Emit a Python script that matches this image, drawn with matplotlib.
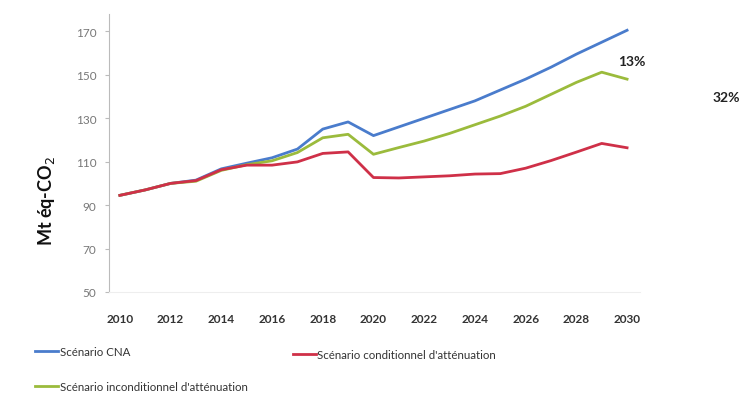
import matplotlib
matplotlib.use("Agg")
import matplotlib.pyplot as plt
from matplotlib.lines import Line2D

plt.rcParams['font.family'] = ['Lato', 'DejaVu Sans']

years = list(range(2010, 2031))
cna = [94.5, 97, 100, 101.5, 106.7, 109.3, 111.8, 115.8, 125.0, 128.3, 122.0,
       126.0, 130.0, 134.0, 138.0, 143.0, 148.0, 153.5, 159.5, 165.0, 170.5]
conditionnel = [94.5, 97, 100, 101.3, 106.3, 108.4, 108.4, 109.9, 113.8, 114.5, 102.7,
                102.5, 103.0, 103.5, 104.3, 104.5, 107.0, 110.5, 114.4, 118.4, 116.4]
inconditionnel = [94.5, 97, 100, 101.0, 106.0, 108.6, 110.4, 114.2, 121.0, 122.6, 113.4,
                  116.5, 119.5, 123.0, 127.0, 131.0, 135.5, 141.0, 146.5, 151.2, 148.0]
series_names = ["Scénario CNA", "Scénario conditionnel d'atténuation",
                "Scénario inconditionnel d'atténuation"]
yticks = [50, 70, 90, 110, 130, 150, 170]
xticks = list(range(2010, 2031, 2))
annotations = [("13%", 2030.2, 156.5), ("32%", 2033.9, 140.0)]

c_blue = '#4a7ccc'
c_red = '#cf3048'
c_green = '#9bbb3c'

fig = plt.figure(figsize=(7.5, 4.14), dpi=100)
ax = fig.add_axes([0.1453, 0.2923, 0.7077, 0.6715])

ax.plot(years, cna, color=c_blue, lw=2.0)
ax.plot(years, inconditionnel, color=c_green, lw=2.0)
ax.plot(years, conditionnel, color=c_red, lw=2.0)

ax.set_xlim(2009.57, 2030.5)
ax.set_ylim(50, 178)
ax.set_yticks(yticks)
ax.set_xticks(xticks)
ax.set_yticklabels([str(v) for v in yticks], fontsize=8.5, color='#777777')
ax.set_xticklabels([str(v) for v in xticks], fontsize=8.5, fontweight='bold', color='#333333')
ax.tick_params(axis='y', length=3, color='#bbbbbb', pad=6)
ax.tick_params(axis='x', length=0, pad=15)
for s in ['top', 'right']:
    ax.spines[s].set_visible(False)
ax.spines['left'].set_color('#bbbbbb')
ax.spines['bottom'].set_color('#eeeeee')
ax.set_ylabel('Mt éq-CO$_2$', fontsize=13, fontweight='bold', color='#111111')
ax.yaxis.set_label_coords(-0.097, 0.33)

for txt, xv, yv in annotations:
    ax.text(xv, yv, txt, fontsize=10, fontweight='bold', color='#222222',
            ha='center', va='center', clip_on=False)

entries = [(series_names[0], c_blue, (0.047, 0.148)),
           (series_names[1], c_red, (0.39, 0.142)),
           (series_names[2], c_green, (0.047, 0.063))]
for name, col, pos in entries:
    fig.legend(handles=[Line2D([], [], color=col, lw=2)], labels=[name],
               loc='center left', bbox_to_anchor=pos, frameon=False,
               fontsize=8.3, handlelength=2.0, handletextpad=0.15,
               labelcolor='#333333', borderaxespad=0, borderpad=0)

fig.savefig('out.png', dpi=100)
